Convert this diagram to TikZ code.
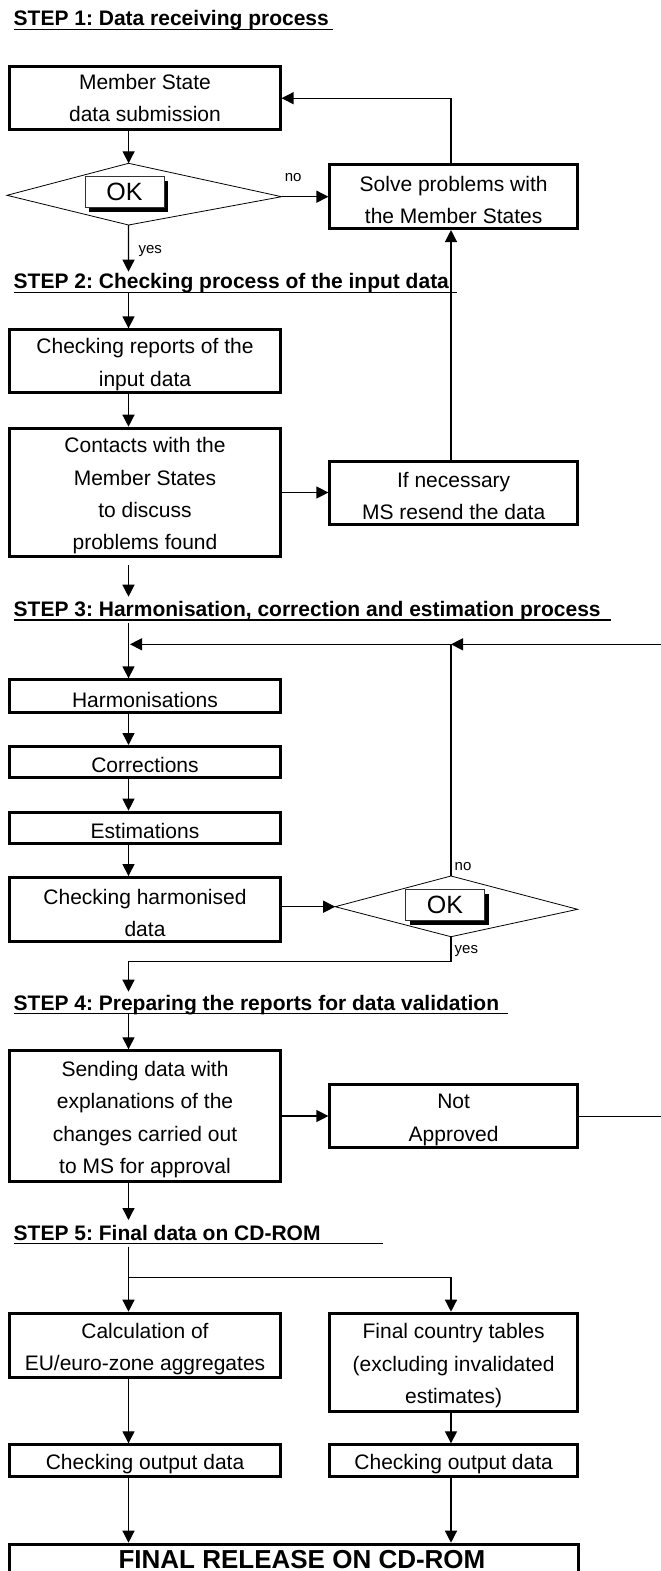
\documentclass[tikz,border=0pt]{standalone}
\usepackage{fontspec}
\setmainfont{Liberation Sans}
\usetikzlibrary{arrows.meta,shadows,calc}
\newcommand\mystrut{\rule{0pt}{22pt}}
\frenchspacing
\begin{document}
\begin{tikzpicture}[x=1pt,y=-1pt,
  box/.style={draw, line width=3pt, inner sep=0pt, align=center, font=\fontsize{21}{32.4}\selectfont},
  lbox/.style={box, minimum width=270.2pt},
  rbox/.style={box, minimum width=247.5pt},
  arr/.style={line width=1.3pt, -{Triangle[length=12pt,width=12pt]}},
  conn/.style={line width=1.3pt},
  dia/.style={line width=0.8pt},
  title/.style={anchor=base west, inner sep=0pt, font=\fontsize{21}{25}\selectfont\bfseries},
  uline/.style={line width=1.4pt},
  lab/.style={anchor=base west, inner sep=0pt, font=\fontsize{15}{18}\selectfont},
  okbtn/.style={draw=black!80, line width=0.8pt, fill=white, minimum width=79pt, minimum height=31pt, inner sep=0pt, font=\fontsize{25}{30}\selectfont, drop shadow={shadow xshift=4pt, shadow yshift=-4pt, fill=black, opacity=1}}
]
\useasboundingbox (0,0) rectangle (661,1571);
\fill[white] (0,0) rectangle (661,1571);
\clip (0,0) rectangle (661,1571);

% column and edge coordinates
\coordinate (cl) at (128.5,0);
\coordinate (cr) at (451,0);
\coordinate (e1) at (661,644.3);
\coordinate (e2) at (661,1115);
\coordinate (y1) at (128.5,271.7);
\coordinate (u2) at (128.5,292.3);
\coordinate (y3) at (128.5,596.7);
\coordinate (u3) at (128.5,623.3);
\coordinate (j2) at (130,644.3);
\coordinate (j3) at (451,644.3);
\coordinate (k4) at (128.5,961.7);
\coordinate (y4) at (128.5,991.7);
\coordinate (u4) at (128.5,1013.3);
\coordinate (y5) at (128.5,1220);
\coordinate (u5) at (128.5,1246.7);
\coordinate (b5) at (128.5,1277.3);

% titles
\node[title] (s1) at (13.5,26) {STEP 1: Data receiving process};
\draw[uline] (13.5,29.3) -- (333.1,29.3);
\node[title] (s2) at (13.5,288.3) {STEP 2: Checking process of the input data};
\draw[uline] (13.5,292.3) -- (456.6,292.3);
\node[title] (s3) at (13.5,616) {STEP 3: Harmonisation, correction and estimation process};
\draw[uline] (13.5,620) -- (611.3,620);
\node[title] (s4) at (13.5,1010) {STEP 4: Preparing the reports for data validation};
\draw[uline] (13.5,1013.3) -- (508,1013.3);
\node[title] (s5) at (13.5,1240) {STEP 5: Final data on CD-ROM};
\draw[uline] (13.5,1243.3) -- (382.8,1243.3);

% boxes, left column
\node[lbox, minimum height=63pt] (ms) at (145,98.2) {Member State\\data submission};
\node[lbox, minimum height=62.7pt] (chk) at (145,361.2) {\mystrut Checking reports of the\\input data};
\node[lbox, minimum height=128.6pt] (cont) at (145,492.5) {\mystrut Contacts with the\\Member States\\to discuss\\problems found};
\node[lbox, minimum height=32.7pt] (harm) at (145,696.2) {\mystrut Harmonisations};
\node[lbox, minimum height=31pt] (corr) at (145,762) {\mystrut Corrections};
\node[lbox, minimum height=31.3pt] (est) at (145,827.8) {\mystrut Estimations};
\node[lbox, minimum height=64.3pt] (chh) at (145,909.7) {\mystrut Checking harmonised\\data};
\node[lbox, minimum height=130.4pt] (send) at (145,1116) {\mystrut Sending data with\\explanations of the\\changes carried out\\to MS for approval};
\node[lbox, minimum height=64.6pt] (calc) at (145,1345.5) {\mystrut Calculation of\\EU/euro-zone aggregates};
\node[lbox, minimum height=32pt] (co1) at (145,1460.8) {\mystrut Checking output data};

% boxes, right column
\node[rbox, minimum height=63.7pt] (solve) at (453.65,196.7) {\mystrut Solve problems with\\the Member States};
\node[rbox, minimum height=62.7pt] (ifn) at (453.65,492.8) {\mystrut If necessary\\MS resend the data};
\node[rbox, minimum height=63pt] (na) at (453.65,1116.3) {\mystrut Not\\Approved};
\node[rbox, minimum height=98pt] (fct) at (453.65,1362.2) {\mystrut Final country tables\\(excluding invalidated\\estimates)};
\node[rbox, minimum height=32pt] (co2) at (453.65,1460.8) {\mystrut Checking output data};

% final box
\node[box, minimum width=568.1pt, minimum height=56.3pt, text height=19pt, text depth=26pt, font=\fontsize{26}{30}\selectfont\bfseries] (fin) at (293.95,1572.35) {\hspace*{16pt}FINAL RELEASE ON CD-ROM};

% decision 1
\coordinate (d1l) at (7,195.3);
\coordinate (d1t) at (128.6,163.3);
\coordinate (d1r) at (281.6,196.7);
\coordinate (d1b) at (128.6,225);
\draw[dia] (d1l) -- (d1t) -- (d1r) -- (d1b) -- cycle;
\node[okbtn] (ok1) at (124.5,192.2) {OK};

% decision 2
\coordinate (d2l) at (335.2,906.7);
\coordinate (d2t) at (451,876);
\coordinate (d2r) at (577.6,909.3);
\coordinate (d2b) at (451,936.7);
\draw[dia] (d2l) -- (d2t) -- (d2r) -- (d2b) -- cycle;
\node[okbtn] (ok2) at (445,905) {OK};

% labels
\node[lab] (no1) at (284.6,181.7) {no};
\node[lab] (yes1) at (138.3,253.7) {yes};
\node[lab] (no2) at (454.5,870) {no};
\node[lab] (yes2) at (454.5,953.5) {yes};

% connectors, step 1
\draw[arr] (ms.south -| d1t) -- (d1t);
\draw[arr] (d1r) -- (d1r -| solve.west);
\draw[arr] (solve.north -| cr) |- (ms.east);
\draw[arr] (d1b) -- (y1);

% step 2
\draw[arr] (u2) -- (chk.north -| cl);
\draw[arr] (chk.south -| cl) -- (cont.north -| cl);
\draw[arr] (cont.east) -- (cont.east -| ifn.west);
\draw[arr] (ifn.north -| cr) -- (solve.south -| cr);
\draw[arr] ($(cont.south -| cl)+(0,6.7)$) -- (y3);

% step 3
\draw[arr] (u3) -- (harm.north -| cl);
\draw[arr] (e1) -- (j3);
\draw[arr] (j3) -- (j2);
\draw[conn] (d2t) -- (j3);
\draw[arr] (harm.south -| cl) -- (corr.north -| cl);
\draw[arr] (corr.south -| cl) -- (est.north -| cl);
\draw[arr] (est.south -| cl) -- (chh.north -| cl);
\draw[arr] (chh.east |- d2l) -- (d2l);
\draw[arr] (d2b) |- (k4) -- (y4);

% step 4
\draw[arr] (u4) -- (send.north -| cl);
\draw[arr] (send.east) -- (send.east -| na.west);
\draw[conn] (na.east) -- (na.east -| e2);
\draw[arr] (send.south -| cl) -- (y5);

% step 5
\draw[arr] (u5) -- (calc.north -| cl);
\draw[arr] (b5) -| (fct.north -| cr);
\draw[arr] (calc.south -| cl) -- (co1.north -| cl);
\draw[arr] (fct.south -| cr) -- (co2.north -| cr);
\draw[arr] (co1.south -| cl) -- (fin.north -| cl);
\draw[arr] (co2.south -| cr) -- (fin.north -| cr);
\end{tikzpicture}
\end{document}
